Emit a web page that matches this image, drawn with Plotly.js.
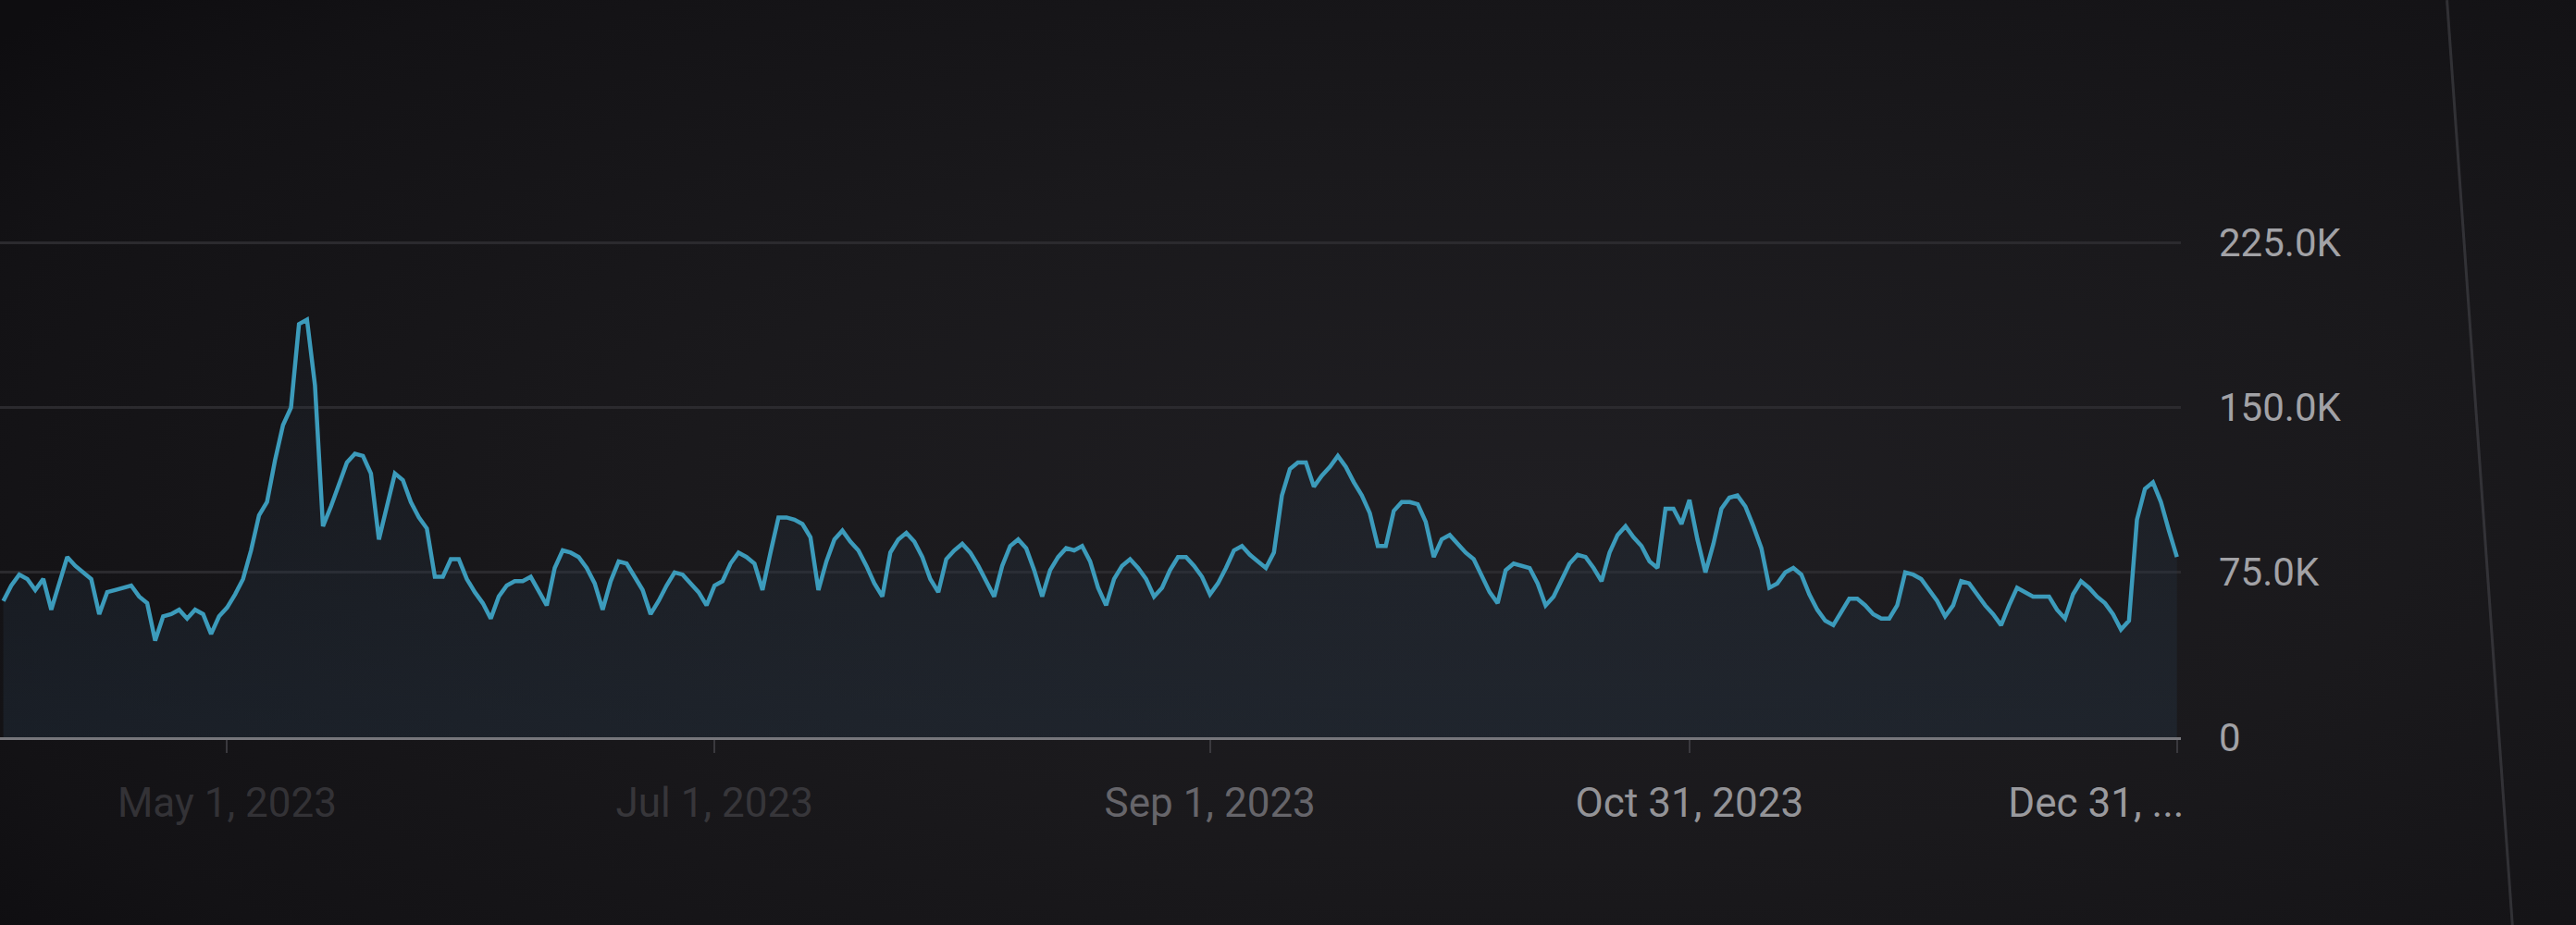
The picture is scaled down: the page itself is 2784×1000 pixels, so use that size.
<!DOCTYPE html>
<html>
<head>
<meta charset="utf-8">
<script src="https://cdn.plot.ly/plotly-3.0.1.min.js"></script>
<style>
  html, body { margin: 0; padding: 0; width: 2784px; height: 1000px; overflow: hidden;
    background: radial-gradient(ellipse 75% 85% at 60% 55%, #1f1e22 0%, #1a191c 45%, #131215 85%, #0e0d10 100%); }
  #chart { width: 2784px; height: 1000px; }
</style>
</head>
<body>
<div id="chart"></div>
<script>
// Daily values (thousands)
const aprValues = [62,69,74,72,67,72,58,70,82,78,75,72,56,66,67,68,69,64,61,44,55,56,58,54,58,56,47,55]; // Apr 3 – Apr 30
const mayValues = [59,65,72,85,101,107,126,142,150,188,190,160,96,105,115,125,129,128,120,90,105,120,117,107,100,95,73,73,81,81,72];
const junValues = [66,61,54,64,69,71,71,73,66,60,77,85,84,82,77,70,58,71,80,79,73,67,56,62,69,75,74,70,66,60];
const julValues = [69,71,79,84,82,79,67,84,100,100,99,97,91,67,80,90,94,89,85,78,70,64,84,90,93,89,82,72,66,81,85];
const augValues = [88,84,78,71,64,78,87,90,86,76,64,76,82,86,85,87,80,68,60,72,78,81,77,72,64,68,76,82,82,78,73];
const sepValues = [65,70,77,85,87,83,80,77,84,110,122,125,125,114,119,123,128,123,116,110,102,87,87,103,107,107,106,98,82,90];
const octValues = [92,88,84,81,74,66,61,76,79,78,77,70,60,64,71,79,83,82,77,71,84,92,96,91,87,80,77,104,104,97,108];
const novValues = [90,75,88,104,109,110,105,96,86,68,70,75,77,74,65,58,53,51,57,63,63,60,56,54,54,60,75,74,72,67];
const decValues = [62,55,60,71,70,65,60,56,51,60,68,66,64,64,64,58,54,65,71,68,64,61,56,49,53,99,113,116,107,94,82];

const monthNumbers = [4,5,6,7,8,9,10,11,12];
const monthFirstDays = [3,1,1,1,1,1,1,1,1];
const monthSeries = [aprValues,mayValues,junValues,julValues,augValues,sepValues,octValues,novValues,decValues];

const xTickDates = ['2023-05-01','2023-07-01','2023-09-01','2023-10-31','2023-12-31'];
const xTickLabels = ['May 1, 2023','Jul 1, 2023','Sep 1, 2023','Oct 31, 2023','Dec 31, ...'];
const yTickValues = [0, 75, 150, 225];
const yTickLabels = ['0','75.0K','150.0K','225.0K'];

// build the daily date list
const dates = [], views = [];
monthSeries.forEach((vals, k) => {
  const mm = String(monthNumbers[k]).padStart(2,'0');
  vals.forEach((v, i) => {
    dates.push('2023-' + mm + '-' + String(monthFirstDays[k] + i).padStart(2,'0'));
    views.push(v);
  });
});

// styling of x tick labels (far labels are out of focus in the photo -> dimmer)
const xTickColors = ['#333236','#37363a','#66656a','#939397','#9a9a9e'];
const xTickPad = ['','','','','\u00A0'.repeat(16)];
const xTickText = xTickLabels.map((t,i) => '<span style="color:' + xTickColors[i] + '">' + t + xTickPad[i] + '</span>');

const trace = {
  type: 'scatter', mode: 'lines',
  x: dates, y: views,
  line: { color: '#3c9bbb', width: 4.5, shape: 'linear' },
  fill: 'tozeroy',
  fillcolor: 'rgba(38,56,74,0.25)',
  fillgradient: { type: 'vertical', start: 0, stop: 200,
    colorscale: [[0,'rgba(38,56,74,0.34)'],[1,'rgba(38,56,74,0.08)']] },
  hoverinfo: 'x+y'
};

const layout = {
  width: 2784, height: 1000,
  margin: { l: 0, r: 427, t: 260, b: 203, pad: 0 },
  paper_bgcolor: 'rgba(0,0,0,0)', plot_bgcolor: 'rgba(0,0,0,0)',
  showlegend: false,
  font: { family: 'Roboto, "Open Sans", sans-serif', color: '#9a9a9e' },
  xaxis: {
    type: 'date',
    range: ['2023-04-02 14:00', '2023-12-31 12:00'],
    tickmode: 'array', tickvals: xTickDates, ticktext: xTickText,
    showgrid: false, zeroline: false,
    showline: true, linecolor: '#76767b', linewidth: 3,
    ticks: 'outside', ticklen: 14, tickwidth: 2, tickcolor: '#3a393e',
    tickfont: { size: 44, color: '#939397' },
    ticklabelstandoff: 16
  },
  yaxis: {
    side: 'right',
    range: [0, 226],
    tickmode: 'array', tickvals: yTickValues, ticktext: yTickLabels,
    showgrid: true, gridcolor: '#2b2a2e', gridwidth: 3,
    zeroline: false, showline: false, ticks: '',
    tickfont: { size: 42, color: '#a2a2a6' },
    ticklabelstandoff: 40
  },
  shapes: [
    { type: 'line', xref: 'paper', yref: 'paper', x0: 1.122, y0: 1.484, x1: 1.152, y1: -0.378,
      line: { color: 'rgba(72,72,78,0.55)', width: 3 } }
  ]
};

Plotly.newPlot('chart', [trace], layout, { staticPlot: true, displayModeBar: false });
</script>
</body>
</html>
